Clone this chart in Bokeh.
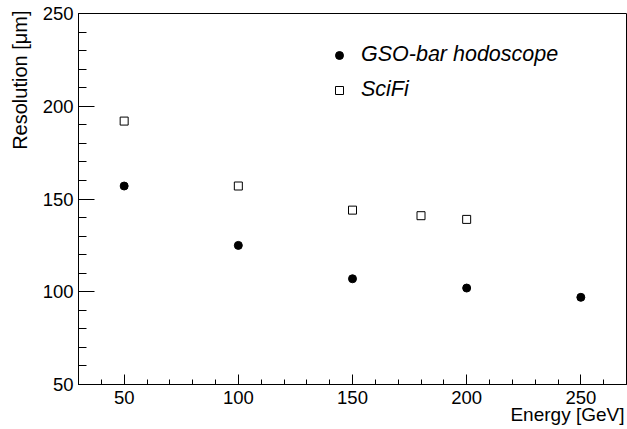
from bokeh.plotting import figure
from bokeh.models import SingleIntervalTicker, Legend, LegendItem, Title, Range1d
from bokeh.embed import file_html
from bokeh.resources import INLINE

# Data
energy_gso = [50, 100, 150, 200, 250]
res_gso = [157, 125, 107, 102, 97]
energy_scifi = [50, 100, 150, 180, 200]
res_scifi = [192, 157, 144, 141, 139]

x_title = "Energy [GeV]"
y_title = "Resolution [\u03bcm]"
label_gso = "GSO-bar hodoscope"
label_scifi = "SciFi"

FONT = "Liberation Sans"

p = figure(width=627, height=429, output_backend="svg", toolbar_location=None,
           x_range=Range1d(30, 270), y_range=Range1d(50, 250),
           min_border_left=78, min_border_right=1, min_border_top=13, min_border_bottom=45)

p.background_fill_color = "white"
p.border_fill_color = "white"
p.outline_line_color = "black"
p.outline_line_width = 1
p.xgrid.visible = False
p.ygrid.visible = False

p.xaxis.ticker = SingleIntervalTicker(interval=50, num_minor_ticks=5)
p.yaxis.ticker = SingleIntervalTicker(interval=50, num_minor_ticks=5)

for ax in (p.xaxis, p.yaxis):
    ax.axis_line_color = "black"
    ax.axis_line_width = 1
    ax.major_tick_line_color = "black"
    ax.minor_tick_line_color = "black"
    ax.major_tick_out = 0
    ax.minor_tick_out = 0
    ax.major_label_text_font = FONT
    ax.major_label_text_font_size = "18.5px"
    ax.major_label_text_color = "black"

p.xaxis.major_tick_in = 10
p.xaxis.minor_tick_in = 5
p.yaxis.major_tick_in = 16
p.yaxis.minor_tick_in = 8
p.xaxis.major_label_standoff = 6
p.yaxis.major_label_standoff = 5

r_gso = p.scatter(energy_gso, res_gso, marker="circle", size=8,
                  fill_color="black", line_color="black")
r_sci = p.scatter(energy_scifi, res_scifi, marker="square", size=8,
                  fill_color=None, line_color="black", line_width=1)

legend = Legend(items=[LegendItem(label=label_gso, renderers=[r_gso]),
                       LegendItem(label=label_scifi, renderers=[r_sci])],
                location=(251, 282))
legend.border_line_color = None
legend.background_fill_alpha = 0
legend.label_text_font = FONT
legend.label_text_font_size = "21.5px"
legend.label_text_font_style = "italic"
legend.label_text_color = "black"
legend.glyph_width = 20
legend.glyph_height = 20
legend.label_standoff = 12
legend.spacing = 10
legend.padding = 0
legend.margin = 0
p.add_layout(legend, "center")

xt = Title(text=x_title, align="right", vertical_align="bottom",
           text_font=FONT, text_font_size="19px", text_font_style="normal",
           text_color="black", standoff=-10, offset=2)
p.add_layout(xt, "below")

yt = Title(text=y_title, align="right", vertical_align="top",
           text_font=FONT, text_font_size="20px", text_font_style="normal",
           text_color="black", standoff=13, offset=-3)
p.add_layout(yt, "left")

open("out.html", "w").write(file_html(p, INLINE))
